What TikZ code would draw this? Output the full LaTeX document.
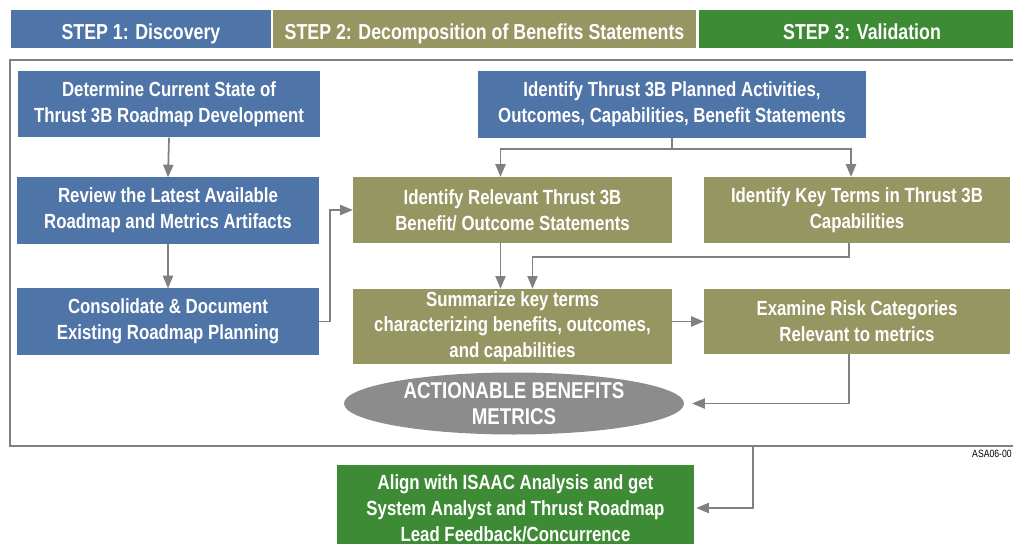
\documentclass[tikz,border=0pt]{standalone}
\usepackage{fontspec}
\setmainfont{Liberation Sans}[FakeStretch=0.82]
\usepackage{tikz}
\usetikzlibrary{arrows,calc,positioning,shapes}
\tikzset{
  flownode/.style = {align=center, inner sep=2pt, rectangle, draw=none, text=white,
  font=\bfseries\fontsize{17.5}{22}\selectfont},
  step_n/.style = {flownode, minimum height=1.14cm, text height=17.4pt, text depth=0pt,
  font=\bfseries\fontsize{18.5}{22}\selectfont},
  box_n/.style = {flownode, minimum height=1.98cm}
}
\definecolor{my_blue}{RGB}{79, 116, 168}
\definecolor{my_olive}{RGB}{150, 150, 98}
\definecolor{my_green}{RGB}{61, 139, 52}
\definecolor{my_gray}{RGB}{128, 128, 128}
\definecolor{my_ell}{RGB}{140, 140, 140}

\begin{document}
\begin{tikzpicture}[->,>=triangle 45, x=0.03cm, y=-0.03cm,
        blue/.style={fill=my_blue},
        olive/.style={fill=my_olive},
        green/.style={fill=my_green},
        wire/.style={draw=my_gray, line width=1.5pt}]
    \useasboundingbox (0,0) rectangle (1013,544);
    \clip (0,0) rectangle (1013,544);
    % step headers
    \node [step_n, blue, minimum width=7.8cm] (s1) at (141,29) {STEP 1: Discovery};
    \node [step_n, olive, minimum width=12.69cm] (s2) at (484.5,29) {STEP 2: Decomposition of Benefits Statements};
    \node [step_n, green, minimum width=9.78cm] (s3) at (862,29) {STEP 3: Validation};
    \node [draw=my_gray, line width=1.5pt, inner sep=0, minimum width=30.6cm, minimum height=11.58cm] (frame) at (520,253) {};
    % step 1
    \node [box_n, blue, minimum width=9.06cm] (det) at (169,104.5) {Determine Current State of\\Thrust 3B Roadmap Development};
    \node [box_n, blue, minimum width=9.06cm] (rev) at (168,210.5) {Review the Latest Available\\Roadmap and Metrics Artifacts};
    \node [box_n, blue, minimum width=9.06cm] (con) at (168,321.5) {Consolidate \& Document\\Existing Roadmap Planning};
    \node [box_n, blue, minimum width=11.64cm, minimum height=2cm] (plan) at (672,104.5) {Identify Thrust 3B Planned Activities,\\Outcomes, Capabilities, Benefit Statements};
    % step 2
    \node [box_n, olive, minimum width=9.57cm] (rel) at (512.5,210) {Identify Relevant Thrust 3B\\Benefit/ Outcome Statements};
    \node [box_n, olive, minimum width=9.18cm] (key) at (857,210) {Identify Key Terms in Thrust 3B\\Capabilities};
    \node [box_n, olive, minimum width=9.57cm, minimum height=2.25cm] (sum) at (512.5,326.5) {Summarize key terms\\characterizing benefits, outcomes,\\and capabilities};
    \node [box_n, olive, minimum width=9.18cm, minimum height=1.95cm] (exa) at (857,321.5) {Examine Risk Categories\\Relevant to metrics};
    \node [flownode, ellipse, fill=my_ell, inner sep=0, minimum width=10.2cm, minimum height=1.86cm,
           font=\bfseries\fontsize{19.5}{22}\selectfont] (ell) at (514,403.5) {ACTIONABLE BENEFITS\\METRICS};
    % step 3
    \node [box_n, green, minimum width=10.71cm, minimum height=2.58cm] (ali) at (515.5,508) {Align with ISAAC Analysis and get\\System Analyst and Thrust Roadmap\\Lead Feedback/Concurrence};
    \node [anchor=base west, inner sep=0, font=\fontsize{9}{10}\selectfont] (tag) at (972,457) {ASA06-00};
    \coordinate (tap) at (753,446);

    \draw [wire] (det.south) -- (rev.north);
    \draw [wire] (rev.south) -- (con.north);
    \draw [wire] (con.east) -- ++(11,0) |- (rel.west);
    \draw [wire] (plan.south) -- ++(0,11) -| ($(rel.north)+(-12,0)$);
    \draw [wire] (plan.south) -- ++(0,11) -| ($(key.north)+(-6,0)$);
    \draw [wire] ($(rel.south)+(-12,0)$) -- ($(sum.north)+(-12,0)$);
    \draw [wire] ($(key.south)+(-8,0)$) -- ++(0,14) -| ($(sum.north)+(20,0)$);
    \draw [wire] (sum.east |- exa.west) -- (exa.west);
    \draw [wire] ($(exa.south)+(-8,0)$) |- ($(ell.east)+(8,0)$);
    \draw [wire] (tap) |- ($(ali.east)+(2,0)$);
\end{tikzpicture}
\end{document}
